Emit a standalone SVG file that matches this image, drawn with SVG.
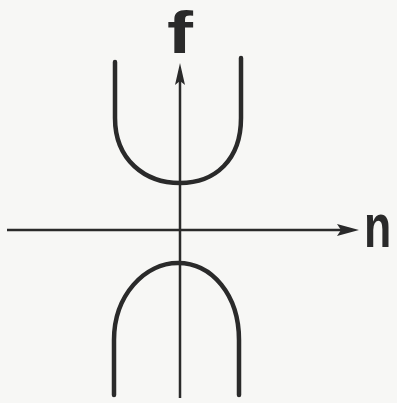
<svg xmlns="http://www.w3.org/2000/svg" width="397" height="403" viewBox="0 0 397 403">
<style>
.axis{stroke:#2a2a2a;stroke-width:2.5;fill:none}
.curve{stroke:#2a2a2a;stroke-width:4.5;fill:none;stroke-linecap:round}
.head{fill:#2a2a2a}
.lbl{font-family:"Liberation Sans",Arial,sans-serif;font-weight:bold;fill:#2a2a2a}
</style>
<rect width="397" height="403" fill="#f7f7f5"/>
<g id="connectors">
<line class="axis" x1="180" y1="398" x2="180" y2="80"/>
<polygon class="head" points="180,63 185,85 180,81 175,85"/>
<line class="axis" x1="7" y1="230" x2="342" y2="230"/>
<polygon class="head" points="359,230 337,236 341,230 337,224"/>
</g>
<g id="upper-curve">
<path class="curve" d="M115,62 L115,118 C115,160 145,183 180,183 C215,183 241,160 241,118 L241,58"/>
</g>
<g id="lower-curve">
<path class="curve" d="M114,395 L114,340 C114,295 145,263 178,263 C212,263 239,295 239,340 L239,395"/>
</g>
<g id="label-f">
<text class="lbl" x="167" y="53" font-size="60" textLength="26" lengthAdjust="spacingAndGlyphs">f</text>
</g>
<g id="label-n">
<text class="lbl" transform="translate(364,247) scale(0.72,1)" x="0" y="0" font-size="62">n</text>
</g>
</svg>
